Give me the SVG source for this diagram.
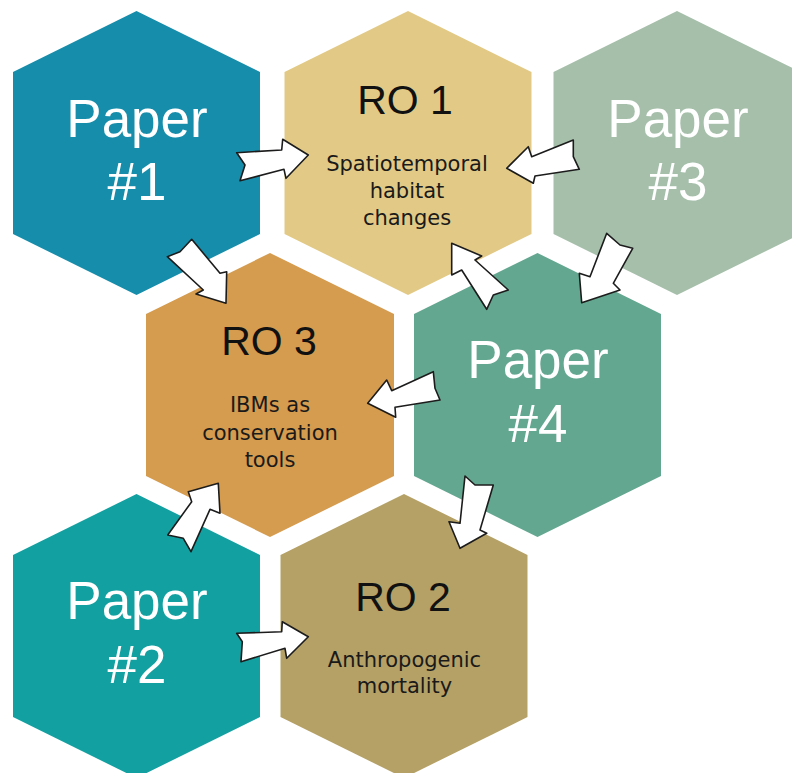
<svg xmlns="http://www.w3.org/2000/svg" width="792" height="773" viewBox="0 0 792 773">
<defs>
<style>
.paper{font-family:"Liberation Sans",Arial,sans-serif;font-size:53px;fill:#ffffff;text-anchor:middle}
.ro{font-family:"Liberation Sans",Arial,sans-serif;font-size:41px;fill:#111111;text-anchor:middle}
.sub{font-family:"DejaVu Sans",sans-serif;font-size:21px;fill:#1a1a1a;text-anchor:middle}
.arrow{fill:#ffffff;stroke:#1c1c1c;stroke-width:1.6;stroke-linejoin:round}
</style>
</defs>
<rect width="792" height="773" fill="#ffffff"/>
<g id="paper1">
<polygon points="136.5,11 260,72 260,234 136.5,295 13,234 13,72" fill="#168DAB"/>
<text class="paper" x="137" y="137">Paper</text>
<text class="paper" x="137" y="200">#1</text>
</g>
<g id="ro1">
<polygon points="408,11 531.5,72 531.5,234 408,295 284.5,234 284.5,72" fill="#E2CA86"/>
<text class="ro" x="405" y="114">RO 1</text>
<text class="sub" x="407" y="171">Spatiotemporal</text>
<text class="sub" x="407" y="198">habitat</text>
<text class="sub" x="407" y="225">changes</text>
</g>
<g id="paper3">
<polygon points="677,11 800.5,72 800.5,234 677,295 553.5,234 553.5,72" fill="#A5BFAA"/>
<text class="paper" x="678" y="137">Paper</text>
<text class="paper" x="678" y="200">#3</text>
</g>
<g id="ro3">
<polygon points="270,253 394,314 394,476 270,537 146,476 146,314" fill="#D59B4E"/>
<text class="ro" x="269" y="355">RO 3</text>
<text class="sub" x="270" y="412">IBMs as</text>
<text class="sub" x="270" y="440">conservation</text>
<text class="sub" x="270" y="467">tools</text>
</g>
<g id="paper4">
<polygon points="537.5,253 661,314 661,476 537.5,537 414,476 414,314" fill="#64A790"/>
<text class="paper" x="538" y="378">Paper</text>
<text class="paper" x="538" y="442">#4</text>
</g>
<g id="paper2">
<polygon points="136.5,494 260,555 260,717 136.5,778 13,717 13,555" fill="#13A0A1"/>
<text class="paper" x="137" y="619">Paper</text>
<text class="paper" x="137" y="683">#2</text>
</g>
<g id="ro2">
<polygon points="404,494 527.5,555 527.5,717 404,778 280.5,717 280.5,555" fill="#B5A166"/>
<text class="ro" x="403" y="611">RO 2</text>
<text class="sub" x="404.5" y="667">Anthropogenic</text>
<text class="sub" x="404.5" y="693">mortality</text>
</g>
<g id="connectors">
<polygon class="arrow" points="236.7,152.7 281.7,150 282.7,139.3 308.3,155 286,178.3 284,169.3 240,180.7 245,165"/>
<polygon class="arrow" points="573.3,140 573.3,156.7 579.3,169.3 535,176 533.3,183.3 506.7,168.3 528.3,146.7 531.7,156.7"/>
<polygon class="arrow" points="167.3,256.7 180,251.7 191.7,239.3 220,273.3 226.7,271.7 226,303.3 196,294 203.3,290"/>
<polygon class="arrow" points="606.7,233.3 620,245 632.7,248.3 613.3,283.3 620,290 581.7,302.7 579.3,273.3 590,276.7"/>
<polygon class="arrow" points="451.7,243.3 481.7,256 475,260 508.3,290 493.3,295 486.7,309.3 461.7,270 451.7,275"/>
<polygon class="arrow" points="433.3,371.7 435,388.3 440,400 395,407.3 395.7,417.3 367.7,403.3 386.7,380 391.7,390.7"/>
<polygon class="arrow" points="465,476 475,485 493.3,485 480,530 486.7,533.3 460,548.3 449,521.7 460,523.3"/>
<polygon class="arrow" points="218.3,483.3 220,513.3 210,509.3 191,551.7 183.3,538.3 167.7,535 191.7,501.7 188.3,491.7"/>
<polygon class="arrow" points="236.7,633.3 281.7,631.7 282.3,621.7 308.3,636.7 286.7,658.3 285,648.3 241,661.7 242.3,641.7"/>
</g>
</svg>
